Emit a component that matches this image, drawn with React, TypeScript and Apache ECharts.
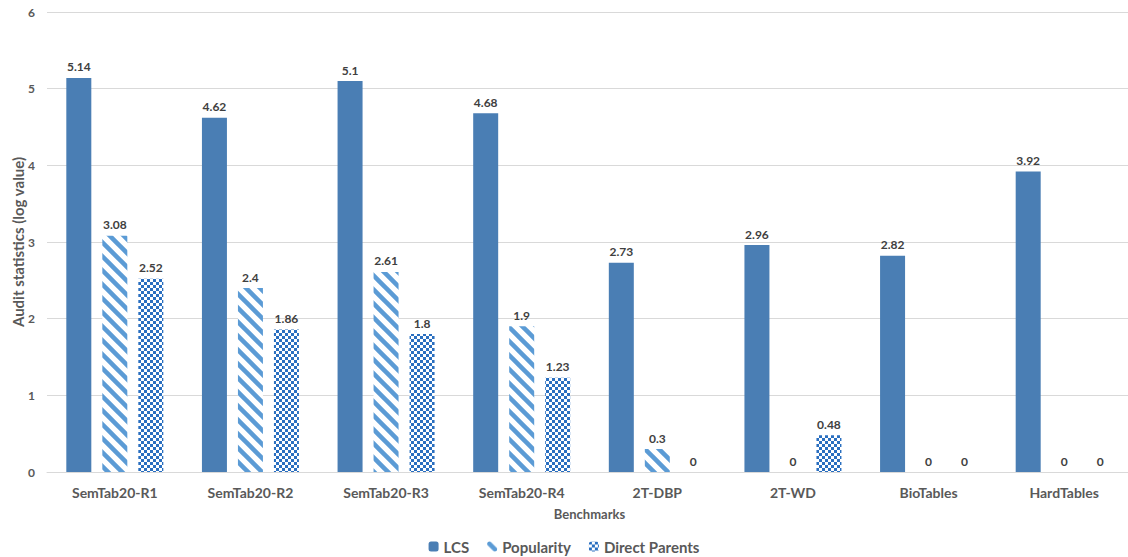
import React, { useEffect, useRef } from "react";
import * as echarts from "echarts";

const categories = [
  "SemTab20-R1",
  "SemTab20-R2",
  "SemTab20-R3",
  "SemTab20-R4",
  "2T-DBP",
  "2T-WD",
  "BioTables",
  "HardTables",
];
const lcs = [5.14, 4.62, 5.1, 4.68, 2.73, 2.96, 2.82, 3.92];
const popularity = [3.08, 2.4, 2.61, 1.9, 0.3, 0, 0, 0];
const directParents = [2.52, 1.86, 1.8, 1.23, 0, 0.48, 0, 0];
const yTicks = [0, 1, 2, 3, 4, 5, 6];

const FONT = "Lato, 'Open Sans', sans-serif";
const TEXT = "#595959";

function stripePattern(): HTMLCanvasElement {
  const s = 14;
  const c = document.createElement("canvas");
  c.width = s;
  c.height = s;
  const ctx = c.getContext("2d")!;
  ctx.fillStyle = "#ffffff";
  ctx.fillRect(0, 0, s, s);
  ctx.strokeStyle = "#5b9bd5";
  ctx.lineWidth = 4.5;
  ctx.lineCap = "square";
  for (const off of [-s, 0, s]) {
    ctx.beginPath();
    ctx.moveTo(off, 0);
    ctx.lineTo(off + s, s);
    ctx.stroke();
  }
  return c;
}

function checkerPattern(): HTMLCanvasElement {
  const cell = 3;
  const c = document.createElement("canvas");
  c.width = cell * 2;
  c.height = cell * 2;
  const ctx = c.getContext("2d")!;
  ctx.fillStyle = "#ffffff";
  ctx.fillRect(0, 0, cell * 2, cell * 2);
  ctx.fillStyle = "#2a6fc0";
  ctx.fillRect(0, 0, cell, cell);
  ctx.fillRect(cell, cell, cell, cell);
  return c;
}

export default function App() {
  const ref = useRef<HTMLDivElement>(null);

  useEffect(() => {
    if (!ref.current) return;
    const chart = echarts.init(ref.current, undefined, { renderer: "svg" });

    const label = {
      show: true,
      position: "top" as const,
      distance: 5,
      color: "#404040",
      fontFamily: FONT,
      fontWeight: "bold" as const,
      fontSize: 12,
    };

    chart.setOption({
      animation: false,
      backgroundColor: "#ffffff",
      textStyle: { fontFamily: FONT },
      grid: {
        left: 47,
        top: 12,
        bottom: 85,
        width: 1085,
        outerBoundsMode: "none",
        containLabel: false,
      },
      legend: {
        top: 534,
        left: "center",
        itemWidth: 10,
        itemHeight: 10,
        itemGap: 18,
        textStyle: { color: TEXT, fontSize: 15, fontWeight: "bold", fontFamily: FONT },
        data: ["LCS", "Popularity", "Direct Parents"],
      },
      xAxis: {
        type: "category",
        data: categories,
        name: "Benchmarks",
        nameLocation: "middle",
        nameGap: 35,
        nameMoveOverlap: false,
        nameTextStyle: { color: TEXT, fontSize: 13, fontWeight: "bold", fontFamily: FONT },
        axisLine: { lineStyle: { color: "#d9d9d9" } },
        axisTick: { show: false },
        axisLabel: { color: TEXT, fontSize: 14, fontWeight: "bold", margin: 13, fontFamily: FONT },
      },
      yAxis: {
        type: "value",
        min: yTicks[0],
        max: yTicks[yTicks.length - 1],
        interval: 1,
        name: "Audit statistics (log value)",
        nameLocation: "middle",
        nameGap: 22,
        nameMoveOverlap: false,
        nameTextStyle: { color: TEXT, fontSize: 15, fontWeight: "bold", fontFamily: FONT },
        axisLine: { show: false },
        axisTick: { show: false },
        axisLabel: { color: TEXT, fontSize: 12, fontWeight: "bold", margin: 12, fontFamily: FONT },
        splitLine: { lineStyle: { color: "#d9d9d9" } },
      },
      series: [
        {
          name: "LCS",
          type: "bar",
          data: lcs,
          barWidth: 25,
          barGap: "44%",
          itemStyle: { color: "#4a7eb4" },
          label,
        },
        {
          name: "Popularity",
          type: "bar",
          data: popularity,
          barWidth: 25,
          barGap: "44%",
          itemStyle: { color: { image: stripePattern(), repeat: "repeat" } },
          label,
        },
        {
          name: "Direct Parents",
          type: "bar",
          data: directParents,
          barWidth: 25,
          barGap: "44%",
          itemStyle: { color: { image: checkerPattern(), repeat: "repeat" } },
          label,
        },
      ],
    });

    return () => chart.dispose();
  }, []);

  return (
    <div
      ref={ref}
      style={{ position: "fixed", left: 0, top: 0, width: 1128, height: 557 }}
    />
  );
}
